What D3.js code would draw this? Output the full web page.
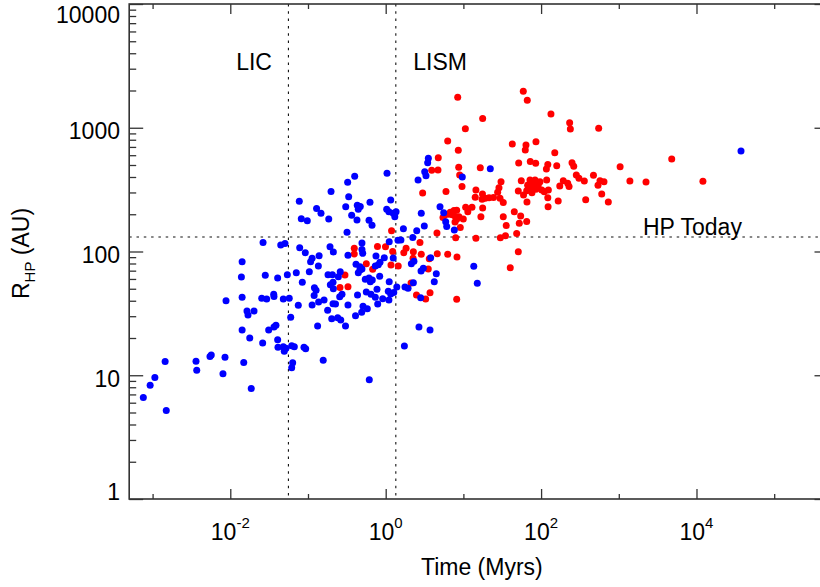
<!DOCTYPE html>
<html>
<head>
<meta charset="utf-8">
<script src="https://cdn.jsdelivr.net/npm/d3@7"></script>
<style>
  body { margin: 0; background: #fff; }
  svg { display: block; font-family: "Liberation Sans", Arial, Helvetica, sans-serif; }
</style>
</head>
<body>
<svg id="chart" width="820" height="587"></svg>
<script>
// blue sample: time (Myrs) and heliopause radius (AU)
const blueTime = [
  0.00076, 0.00093, 0.00107, 0.00145, 0.0015, 0.00362, 0.0037, 0.00548, 0.00569, 0.00855,
  0.00805, 0.0149, 0.0186, 0.00881, 0.0142, 0.0142, 0.0139, 0.0164, 0.0169, 0.0202,
  0.0142, 0.0178, 0.0264, 0.0446, 0.0506, 0.0254, 0.0294, 0.0282, 0.0407, 0.0362,
  0.0365, 0.0312, 0.0365, 0.0387, 0.0407, 0.0261, 0.0411, 0.0481, 0.0495, 0.0521,
  0.0617, 0.0667, 0.0635, 0.0617, 0.0599, 0.0481, 0.0574, 0.0542, 0.0707, 0.075,
  0.0782, 0.0923, 0.0773, 0.082, 0.098, 0.129, 0.147, 0.198, 0.324, 0.399,
  0.334, 0.306, 0.431, 0.471, 0.444, 0.365, 0.427, 0.185, 0.318, 0.628,
  1.04, 1.16, 1.03, 1.10, 1.25, 1.36, 1.31, 0.61, 0.667, 1.69,
  2.51, 2.23, 1.11, 1.44, 1.57, 0.104, 0.0845, 0.113, 0.108, 0.139,
  0.136, 0.192, 0.212, 0.327, 0.495, 0.495, 0.506, 0.181, 0.206, 0.26,
  0.246, 0.444, 0.194, 0.21, 0.121, 0.127, 0.212, 0.12, 0.256, 0.274,
  0.434, 0.113, 0.137, 0.161, 0.21, 0.226, 0.327, 0.179, 0.202, 0.241,
  0.264, 0.409, 0.133, 0.304, 0.157, 0.0888, 0.0934, 0.75, 0.959, 1.25,
  0.415, 0.467, 0.735, 0.845, 0.803, 2.14, 2.31, 0.467, 0.495, 0.546,
  0.61, 0.634, 0.672, 0.837, 1.11, 1.39, 1.77, 2.27, 0.563, 0.647,
  0.735, 0.773, 1.08, 1.16, 1.27, 0.915, 1.10, 0.789, 0.511, 0.58,
  0.491, 1.94, 4.22, 2.82, 2.68, 3.72, 1.74, 0.615, 2.61, 3.54,
  3.47, 3.18, 3.30, 22.2, 9.68, 5.0, 5.58, 5.92, 6.10, 7.64,
  3.14, 2.85, 3.05, 4.48, 13.6, 15.1, 37400, 2.87, 3.79
];
const blueRadius = [
  6.6, 8.3, 9.6, 12.9, 5.2, 13.0, 11.0, 14.2, 14.6, 14.0,
  10.3, 12.7, 7.8, 40.0, 42.7, 82.7, 62.2, 33.0, 30.7, 33.0,
  23.2, 20.0, 118, 113, 116, 41.9, 41.3, 64.2, 61.1, 45.1,
  43.3, 23.2, 24.5, 25.3, 19.4, 18.2, 16.8, 17.0, 15.6, 16.5,
  17.3, 17.0, 12.6, 11.5, 29.4, 41.3, 41.9, 65.0, 67.4, 36.7,
  107, 97.8, 255, 184, 177, 223, 204, 306, 362, 406,
  277, 230, 236, 231, 220, 196, 180, 183, 143, 250,
  429, 261, 220, 210, 204, 210, 191, 179, 163, 153,
  147, 130, 120, 123, 124, 68.7, 56.4, 88.1, 82.7, 92.5,
  76.3, 109, 99.1, 93.2, 117, 104, 96.7, 64.9, 64.9, 68.7,
  62.6, 67.4, 53.9, 56.4, 51.0, 48.6, 50.0, 44.1, 43.1, 45.1,
  44.5, 36.9, 39.1, 40.6, 37.9, 37.7, 36.9, 33.5, 28.6, 29.2,
  28.0, 30.3, 25.0, 25.0, 13.2, 16.8, 16.4, 92.0, 89.1, 88.6,
  78.8, 75.4, 76.3, 81.8, 78.2, 79.7, 83.3, 70.9, 72.2, 59.6,
  61.1, 57.0, 58.9, 63.0, 57.0, 51.6, 51.6, 56.0, 47.1, 45.1,
  42.7, 49.5, 47.7, 45.4, 46.6, 41.6, 40.6, 37.7, 36.1, 34.5,
  32.3, 50.4, 57.0, 42.3, 24.5, 23.2, 17.2, 9.2, 378, 566,
  522, 442, 410, 467, 400, 230, 206, 174, 159, 149,
  161, 69.6, 73.1, 66.2, 75.9, 55.3, 649, 204, 89.1
];

// red sample: time (Myrs) and heliopause radius (AU)
const redTime = [
  8.45, 59.0, 66.4, 17.7, 10.6, 6.28, 42.6, 63.9, 62.6, 85.9,
  8.6, 134, 233, 238, 551, 150, 51.5, 72.6, 85.2, 122,
  117, 159, 250, 263, 1040, 4800, 284, 307, 360, 472,
  573, 645, 540, 1390, 2240, 12100, 193, 220, 229, 174,
  118, 72, 83.5, 96.8, 68.4, 79.4, 92, 75.7, 85.9, 102,
  65.3, 76.3, 124, 110, 59.4, 122, 123, 166, 375, 603,
  733, 65.8, 55.6, 50.9, 67.2, 4.75, 3.91, 4.71, 8.7, 16.5,
  8.96, 9.6, 2.99, 5.97, 14.5, 30.5, 28.7, 27.6, 24.4, 21.4,
  19.1, 17.4, 14.2, 17.6, 29.6, 32.6, 6.78, 7.57, 8.2, 5.75,
  6.47, 7.2, 7.87, 8.78, 9.97, 5.46, 8.2, 10.7, 12.9, 11.4,
  17.7, 16.8, 9.12, 7.8, 32.6, 45.2, 54.6, 65.3, 52.4, 35.6,
  48.5, 34.8, 29.9, 14.5, 4.57, 7.96, 2.76, 1.83, 1.71, 2.27,
  2.87, 4.61, 6.28, 8.27, 2.25, 50.9, 40.1, 3.64, 3.53, 2.49,
  3.27, 3.72, 8.2, 2.12, 1.45, 1.17, 0.68, 0.563, 0.784, 0.994,
  1.23, 1.19, 0.394, 0.394, 0.299, 0.258, 0.327
];
const redRadius = [
  1760, 1970, 1670, 1190, 982, 781, 739, 725, 661, 771,
  657, 1290, 1100, 977, 990, 629, 519, 534, 516, 505,
  464, 494, 522, 488, 484, 559, 415, 390, 371, 413,
  373, 366, 343, 371, 364, 369, 373, 356, 335, 338,
  378, 378, 378, 366, 345, 345, 345, 324, 318, 314,
  310, 299, 314, 304, 286, 272, 230, 256, 262, 291,
  251, 251, 373, 308, 343, 573, 453, 456, 479, 476,
  415, 335, 297, 305, 314, 366, 328, 301, 273, 272,
  269, 264, 275, 291, 269, 249, 208, 214, 215, 197,
  200, 198, 192, 191, 183, 188, 182, 228, 228, 210,
  225, 191, 156, 173, 191, 210, 194, 175, 169, 162,
  140, 134, 129, 128, 141, 129, 118, 106, 97.8, 99.6,
  95, 96, 95, 90.3, 88.1, 99.6, 74.0, 87.5, 72.2, 44.5,
  41.3, 46.5, 41.1, 55.7, 76.3, 77.8, 71.8, 79.7, 110, 109,
  100, 147, 106, 95.5, 64.6, 51.2, 52.0
];

// reference markers
const licTime = 0.056;
const lismTime = 1.35;
const hpToday = 131;

// axis ticks
const xMajorTicks = [1e-2, 1, 1e2, 1e4];
const xTickExponents = ['-2', '0', '2', '4'];
const xMinorTicks = [1e-3, 1e-1, 1e1, 1e3, 1e5];
const yMajorTicks = [1, 10, 100, 1000, 10000];
const yTickLabels = ['1', '10', '100', '1000', '10000'];

const plotLeft = 129.2, plotRight = 828.5, plotTop = 4, plotBottom = 499;
const ink = '#333';

const svg = d3.select('#chart');

const x = d3.scaleLog().domain([5e-4, 5e5]).range([plotLeft, plotRight]);
const y = d3.scaleLog().domain([1, 1e4]).range([plotBottom, plotTop]);
const yMinorTicks = y.ticks().filter(d => !yMajorTicks.includes(d));

// dotted reference lines
const dots = svg.append('g')
    .attr('stroke', '#111')
    .attr('stroke-width', 1.1)
    .attr('stroke-dasharray', '2.5,4.8');
[licTime, lismTime].forEach(t => {
    dots.append('line')
        .attr('x1', x(t)).attr('x2', x(t))
        .attr('y1', plotTop).attr('y2', plotBottom);
});
dots.append('line')
    .attr('x1', plotLeft).attr('x2', plotRight)
    .attr('y1', y(hpToday)).attr('y2', y(hpToday));

// points
function drawPoints(times, radii, colour) {
    svg.append('g')
        .selectAll('circle')
        .data(times.map((t, i) => [t, radii[i]]))
        .join('circle')
        .attr('cx', d => x(d[0]))
        .attr('cy', d => y(d[1]))
        .attr('r', 3.5)
        .attr('fill', colour);
}
drawPoints(redTime, redRadius, '#ff0000');
drawPoints(blueTime, blueRadius, '#0000ff');

// axes: ticks on all four sides
function tidy(g) {
    g.select('.domain').remove();
    g.selectAll('line').attr('stroke', ink).attr('stroke-width', 1.3);
}
const noLabel = () => '';
svg.append('g').attr('transform', `translate(0,${plotBottom})`)
    .call(d3.axisBottom(x).tickValues(xMajorTicks).tickSize(-10).tickFormat(noLabel)).call(tidy);
svg.append('g').attr('transform', `translate(0,${plotBottom})`)
    .call(d3.axisBottom(x).tickValues(xMinorTicks).tickSize(-5).tickFormat(noLabel)).call(tidy);
svg.append('g').attr('transform', `translate(0,${plotTop})`)
    .call(d3.axisTop(x).tickValues(xMajorTicks).tickSize(-10).tickFormat(noLabel)).call(tidy);
svg.append('g').attr('transform', `translate(0,${plotTop})`)
    .call(d3.axisTop(x).tickValues(xMinorTicks).tickSize(-5).tickFormat(noLabel)).call(tidy);
svg.append('g').attr('transform', `translate(${plotLeft},0)`)
    .call(d3.axisLeft(y).tickValues(yMajorTicks).tickSize(-14).tickFormat(noLabel)).call(tidy);
svg.append('g').attr('transform', `translate(${plotLeft},0)`)
    .call(d3.axisLeft(y).tickValues(yMinorTicks).tickSize(-7).tickFormat(noLabel)).call(tidy);
svg.append('g').attr('transform', `translate(${plotRight},0)`)
    .call(d3.axisRight(y).tickValues(yMajorTicks).tickSize(-14).tickFormat(noLabel)).call(tidy);
svg.append('g').attr('transform', `translate(${plotRight},0)`)
    .call(d3.axisRight(y).tickValues(yMinorTicks).tickSize(-7).tickFormat(noLabel)).call(tidy);

// frame
svg.append('rect')
    .attr('x', plotLeft).attr('y', plotTop)
    .attr('width', plotRight - plotLeft).attr('height', plotBottom - plotTop)
    .attr('fill', 'none')
    .attr('stroke', ink)
    .attr('stroke-width', 1.6);

// tick labels
svg.append('g')
    .selectAll('text')
    .data(xMajorTicks)
    .join('text')
    .attr('x', d => x(d))
    .attr('y', 540)
    .attr('text-anchor', 'middle')
    .attr('font-size', 23)
    .attr('fill', '#000')
    .each(function(d, i) {
        const t = d3.select(this);
        t.append('tspan').text('10');
        t.append('tspan').attr('dy', -12).attr('font-size', 15).text(xTickExponents[i]);
    });

svg.append('g')
    .selectAll('text')
    .data(yMajorTicks)
    .join('text')
    .attr('x', 120)
    .attr('y', d => Math.min(Math.max(y(d) + 3, 15), 491.5))
    .attr('dy', '0.36em')
    .attr('text-anchor', 'end')
    .attr('font-size', 23)
    .attr('fill', '#000')
    .text((d, i) => yTickLabels[i]);

// axis titles
svg.append('text')
    .attr('x', (plotLeft + plotRight) / 2 + 3)
    .attr('y', 575)
    .attr('text-anchor', 'middle')
    .attr('font-size', 23)
    .text('Time (Myrs)');

const yTitle = svg.append('text')
    .attr('transform', `translate(28.5,${(plotTop + plotBottom) / 2 + 2}) rotate(-90)`)
    .attr('text-anchor', 'middle')
    .attr('font-size', 23);
yTitle.append('tspan').text('R');
yTitle.append('tspan').attr('font-size', 15).attr('dy', 6).text('HP');
yTitle.append('tspan').attr('dy', -6).text(' (AU)');

// region labels
svg.append('text')
    .attr('x', x(licTime) - 16.5).attr('y', 69.5)
    .attr('text-anchor', 'end').attr('font-size', 23)
    .text('LIC');
svg.append('text')
    .attr('x', x(lismTime) + 17.5).attr('y', 69.5)
    .attr('font-size', 23)
    .text('LISM');
svg.append('text')
    .attr('x', 643).attr('y', y(hpToday) - 2)
    .attr('font-size', 23)
    .text('HP Today');
</script>
</body>
</html>
